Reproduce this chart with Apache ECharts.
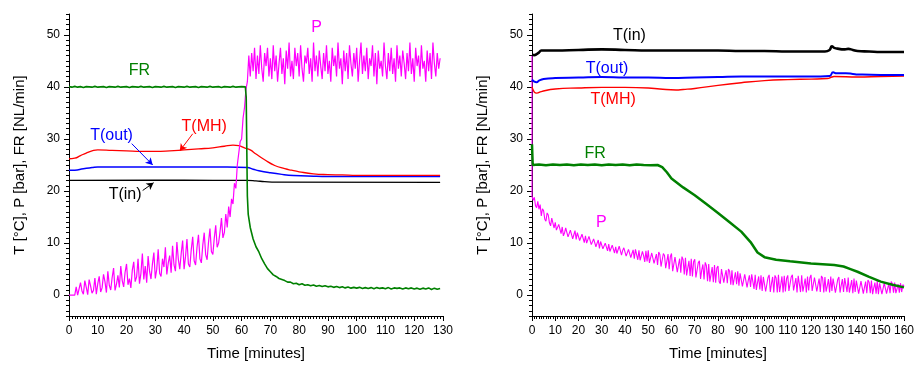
<!DOCTYPE html>
<html><head><meta charset="utf-8">
<script src="https://cdn.jsdelivr.net/npm/echarts@6/dist/echarts.min.js"></script>
<style>html,body{margin:0;padding:0;background:#fff}#c{width:917px;height:366px}</style>
</head><body><div id="c"></div>
<script>
// ---------- DATA ----------
const yTickLabels = [0, 10, 20, 30, 40, 50];
const leftXMax = 130, rightXMax = 160;

// Left panel
const leftPStep = 0.5;
const leftP = [
0,0,0,0,0, 1.6,0,0.3,2.4,0.8,
0.2,2.8,1.5,0.1,3.0,1.8,0.4,0.9,3.3,0.2,
2.2,3.6,0.6,1.4,4.0,2.6,0.5,4.6,1.9,1.0,
3.4,5.2,0.9,2.1,3.8,1.5,5.6,2.8,1.6,4.4,
6.0,2.0,3.2,1.4,4.8,6.4,2.6,3.5,7.0,2.2,
4.2,8.0,3.0,5.6,2.4,7.5,4.6,3.1,6.0,8.2,
3.2,5.0,8.8,4.2,3.6,7.0,5.4,9.2,4.0,6.2,
7.6,4.3,9.5,5.8,4.6,10.2,6.9,5.0,8.0,10.5,
5.0,7.4,10.8,6.0,5.4,8.8,11.2,6.6,5.8,9.2,
11.6,7.0,6.2,9.6,12.0,7.8,6.8,10.2,12.8,8.4,
7.8,11.0,13.4,9.2,10.0,12.2,14.8,11.0,12.0,15.6,
13.0,17.0,15.0,18.5,17.5,21.5,20.5,25.0,25.0,29.5,
30.0,34.0,36.0,39.5,41.0,46.0,
42.0,46.5,43.0,47.5,41.5,46.0,42.5,48.0,43.5,41.0, 46.5,44.0,47.5,42.0,45.5,41.5,48.0,43.0,46.0,41.0,
44.5,47.5,42.5,45.5,40.5,47.0,43.5,48.5,42.0,45.0, 41.5,47.5,44.0,46.5,42.0,48.0,43.5,41.0,46.0,44.5,
47.5,42.5,45.5,41.0,48.5,43.0,46.0,42.0,47.0,44.0, 41.5,46.5,43.0,48.0,42.5,45.0,41.0,47.5,44.0,46.0,
42.0,48.5,43.5,45.5,40.5,47.0,43.0,46.5,41.5,48.0, 44.5,42.0,46.5,43.5,47.5,41.0,45.0,48.5,42.5,46.0,
43.0,47.5,41.5,45.5,44.0,48.0,42.0,46.5,40.5,47.0, 43.5,45.0,42.0,48.5,44.0,41.5,46.5,43.0,47.5,42.5,
45.5,41.0,48.0,43.5,46.0,42.0,47.0,44.5,41.5,46.5, 43.0,48.5,42.5,45.5,41.0,47.5,44.0,46.0,42.0,48.0,
43.5,45.0,41.0,47.0,43.0,46.5,41.5,48.5,44.5,42.0, 46.5,43.5,45.5
];
const leftFR = [[0,40.05],[1,39.95],[2,40.1],[3,39.95],[4,40.05],[5,39.9],[6,40.05],[8,39.95],[9,40.1],[10,39.95],[12,40.05],[13,39.9],[14,40.05],[16,39.95],[17,40.1],[18,39.95],[20,40.05],[21,39.9],[22,40.05],[24,39.95],[25,40.1],[26,39.95],[28,40.05],[29,39.9],[30,40.05],[32,39.95],[33,40.1],[34,39.95],[36,40.05],[37,39.9],[38,40.05],[40,39.95],[41,40.1],[42,39.95],[44,40.05],[45,39.9],[46,40.05],[48,39.95],[49,40.1],[50,39.95],[52,40.05],[53,39.9],[54,40.05],[56,39.95],[57,40.1],[58,39.95],[60,40.05],[61.3,40.0],[61.6,38],[61.8,28],[62.0,19],[62.3,15.5],[63,13],[64,10.8],[65,9.3],[66,8.3],[67,7.0],[68,6.0],[69,5.1],[70,4.5],[71,3.9],[72,3.6],[73,3.2],[74,3.0],
[75,2.8],[76,2.5],[77,2.5],[78,2.2],[79,2.3],[80,2.0],[81,2.2],[82,1.9],[83,2.0],[84,1.8],[85,1.95],[86,1.7],[87,1.85],[88,1.65],[89,1.8],[90,1.6],[91,1.7],[92,1.5],[93,1.65],[94,1.45],[95,1.6],[96,1.4],[97,1.55],[98,1.35],[99,1.5],[100,1.35],[101,1.5],[102,1.3],[103,1.45],[104,1.3],[105,1.45],[106,1.25],[107,1.45],[108,1.3],[109,1.4],[110,1.25],[111,1.45],[112,1.2],[113,1.4],[114,1.3],[115,1.4],[116,1.2],[117,1.4],[118,1.25],[119,1.4],[120,1.2],[121,1.35],[122,1.15],[123,1.35],[124,1.2],[125,1.4],[126,1.1],[127,1.35],[128,1.15],[129,1.3]];
const leftTMH = [[0,26.2],[2,26.3],[4,26.8],[6,27.3],[8,27.7],[10,27.9],[15,27.8],[20,27.7],[25,27.6],[30,27.6],[35,27.7],[40,27.9],[45,28.1],[50,28.3],[54,28.6],[57,28.8],[59,28.7],[61,28.3],[63,27.9],[65,27.1],[68,26.0],[71.5,24.9],[75,24.3],[77.3,24.0],[80,23.7],[85,23.3],[90,23.15],[95,23.1],[100,23.0],[110,23.0],[129,23.0]];
const leftTout = [[0,24.0],[2,24.0],[5,24.3],[8,24.5],[10,24.6],[20,24.6],[40,24.6],[55,24.6],[62,24.5],[64,24.2],[66,23.9],[70,23.5],[74,23.2],[78,23.0],[85,22.85],[90,22.8],[129,22.8]];
const leftTin = [[0,22.05],[30,22.1],[50,22.05],[62,22.05],[65,21.95],[68,21.8],[72,21.7],[129,21.65]];

// Right panel
const rightPInitial = [0, 46];
const rightPStep = 0.5;
const rightP = [
19.0,18.2,18.8,17.2,16.8,18.0,16.5,17.4,15.2,16.6,
16.2,14.6,14.2,15.8,15.4,13.9,13.3,14.8,14.5,12.9,
14.0,12.5,12.2,13.6,13.4,11.8,13.1,11.4,12.0,12.9,
12.9,11.2,11.0,12.5,12.3,10.8,11.6,12.4,10.7,12.0,
12.2,10.5,10.4,11.7,11.6,10.1,11.4,10.0,9.8,11.3,
11.0,9.7,9.5,10.8,10.7,9.3,10.0,10.6,9.0,10.3,
10.5,8.9,8.8,10.0,9.9,8.5,9.8,8.4,8.3,9.6,
9.7,8.1,9.3,8.0,7.8,9.4,9.2,7.7,8.6,9.1,
9.3,7.5,7.3,8.8,8.9,7.2,8.0,8.7,7.0,8.8,
8.5,6.8,8.6,6.7,6.6,8.4,7.6,6.4,8.5,6.5,
8.6,6.2,6.0,8.1,8.2,6.1,7.0,7.9,5.8,8.3,
7.8,5.5,5.4,8.0,7.6,5.2,6.5,7.9,5.0,7.4,
8.0,4.6,4.5,7.3,7.6,4.4,5.8,7.0,4.3,7.4,
6.8,4.0,7.2,3.8,5.2,6.6,3.7,7.0,3.6,6.4,
6.9,3.4,3.2,6.2,6.6,3.1,4.8,5.9,3.0,6.3,
5.7,2.7,6.0,2.6,4.0,5.4,2.5,5.8,2.4,5.2,
5.6,2.6,2.2,5.0,5.3,2.4,3.8,4.8,2.3,5.0,
4.6,2.0,4.8,1.9,3.2,4.4,2.1,4.6,1.8,4.2,
4.4,1.7,1.9,4.0,4.2,1.5,2.8,3.8,1.6,4.0,
3.7,1.2,3.9,1.0,2.4,3.6,1.1,3.8,0.8,3.5,
3.8,0.7,0.9,3.4,3.9,0.6,2.2,3.5,0.5,3.8,
3.3,0.5,3.9,0.6,2.0,3.6,0.5,3.7,0.7,3.2,
3.8,0.8,0.6,3.5,3.9,0.9,2.1,3.3,0.5,3.7,
3.4,0.6,3.8,0.7,1.9,3.2,0.5,3.6,0.9,3.3,
3.9,0.8,0.5,3.4,3.6,0.7,2.0,3.2,0.6,3.7,
3.3,0.5,3.5,0.7,1.8,3.1,0.5,3.6,0.8,3.2,
3.4,0.5,0.7,3.0,3.5,0.5,1.9,3.1,0.6,3.3,
3.0,0.6,3.4,0.5,1.7,2.9,0.4,3.2,0.6,2.8,
3.1,0.3,0.5,2.7,3.0,0.3,1.5,2.6,0.4,2.9,
2.5,0.4,2.8,0.2,1.4,2.4,0.3,2.7,0.2,2.3,
2.6,0.2,0.4,2.3,2.5,0.3,1.3,2.2,0.4,2.6,
2.2,0.5,2.4,0.4,1.2,2.1,0.5,2.3,0.6,2.0,
1.8
];
const rightFR = [[0,29],[0.3,25.0],[3,25.1],[6,24.95],[9,25.1],[12,25.0],[15,25.1],[18,24.95],[21,25.1],[24,25.0],[27,25.1],[30,24.95],[33,25.1],[36,25.0],[39,25.1],[42,24.95],[45,25.1],[48,25.0],[51,24.95],[54,25.0],[56,24.6],[58,23.6],[60,22.4],[65,20.7],[70,19.2],[75,17.5],[80,15.8],[85,14.0],[90,12.2],[94,10.2],[97,8.2],[100,7.3],[105,6.8],[111,6.5],[120,6.1],[130,5.8],[134,5.5],[137,5.0],[140,4.5],[145,3.5],[150,2.6],[155,2.0],[160,1.5]];
const rightTMH = [[0,40.0],[1,39.0],[2,38.8],[4,39.1],[10,39.6],[20,39.8],[30,39.9],[40,39.9],[50,39.8],[55,39.6],[62,39.4],[65,39.5],[70,39.7],[80,40.3],[90,40.8],[100,41.2],[110,41.4],[120,41.5],[127,41.6],[129,41.9],[130,42.0],[140,41.9],[150,42.0],[160,42.1]];
const rightTout = [[0,41.4],[1,41.0],[2,40.9],[3,41.2],[5,41.5],[10,41.7],[20,41.8],[30,41.9],[40,41.8],[50,41.8],[60,41.7],[70,41.8],[80,41.9],[90,42.0],[100,42.0],[110,42.0],[120,42.0],[128,42.1],[129.5,42.8],[131,42.6],[135,42.6],[138,42.5],[140,42.4],[150,42.3],[160,42.3]];
const rightTin = [[0,46.2],[1,46.1],[2,46.3],[3,46.6],[4,47.0],[6,47.0],[10,47.0],[20,47.1],[30,47.2],[40,47.1],[50,47.0],[60,47.0],[70,47.0],[80,47.0],[90,46.9],[100,46.9],[110,46.8],[120,46.8],[126,46.8],[128,47.1],[129,47.8],[130,47.5],[132,47.3],[134,47.2],[136,47.3],[138,47.1],[140,46.9],[145,46.8],[150,46.7],[160,46.7]];

// Annotation positions (data coordinates)
const leftLabels = {FR:[24.5,43.2], P:[86.1,51.4], TMH:[47.0,32.4], Tout:[14.8,30.6], Tin:[19.5,19.4]};
const leftArrows = {TMH:[[43.0,31.0],[38.5,27.7]], Tout:[[21.8,29.1],[29.1,25.0]], Tin:[[25.6,20.1],[29.4,21.6]]};
const rightLabels = {Tin:[41.9,49.8], Tout:[32.3,43.6], TMH:[34.9,37.5], FR:[27.2,27.2], P:[29.8,14.0]};

// ---------- CHART ----------
const FONT = 'Liberation Sans, Arial, sans-serif';
const C = {P:'#ff00ff', FR:'#008000', TMH:'#ff0000', Tout:'#0000ff', Tin:'#000000'};
const toPairs = (vals, step) => vals.map((v, i) => [i * step, v]);
const minorY = []; for (let v = -4; v <= 54; v++) minorY.push(v);

function xAx(grid, max) {
  return {
    type:'value', gridIndex:grid, min:0, max:max, interval:10,
    name:'Time [minutes]', nameLocation:'middle', nameGap:30,
    nameTextStyle:{fontSize:15, color:'#000', fontFamily:FONT},
    axisLine:{show:true, onZero:false, lineStyle:{color:'#000', width:1}},
    axisTick:{show:true, length:5, lineStyle:{color:'#000'}},
    minorTick:{show:true, splitNumber:10, length:3, lineStyle:{color:'#000'}},
    axisLabel:{fontSize:12, color:'#000', fontFamily:FONT, margin:9, hideOverlap:false},
    splitLine:{show:false}, minorSplitLine:{show:false}
  };
}
function yAx(grid) {
  return {
    type:'value', gridIndex:grid, min:-4, max:54,
    name:'T [°C], P [bar], FR [NL/min]', nameLocation:'middle', nameGap:42, nameRotate:90,
    nameTextStyle:{fontSize:15, color:'#000', fontFamily:FONT},
    axisLine:{show:true, onZero:false, lineStyle:{color:'#000', width:1}},
    axisTick:{show:true, length:5, customValues:yTickLabels, lineStyle:{color:'#000'}},
    axisLabel:{fontSize:12, color:'#000', fontFamily:FONT, margin:9, customValues:yTickLabels},
    splitLine:{show:false}
  };
}
function yMinor(grid) {
  return {
    type:'value', gridIndex:grid, min:-4, max:54, position:'left',
    axisLine:{show:false}, axisLabel:{show:false},
    axisTick:{show:true, length:3, customValues:minorY, lineStyle:{color:'#000'}},
    splitLine:{show:false}
  };
}
function lbl(text, pos, color) {
  return {coord:pos, symbol:'circle', symbolSize:1, itemStyle:{color:'rgba(0,0,0,0)'},
    label:{show:true, position:'inside', formatter:text, color:color, fontSize:16, fontFamily:FONT}};
}
function line(name, data, xi, yi, color, width, extra) {
  return Object.assign({
    name, type:'line', xAxisIndex:xi, yAxisIndex:yi, data, showSymbol:false, symbol:'none',
    lineStyle:{color, width}, itemStyle:{color}, animation:false, silent:true, z:2
  }, extra || {});
}
function arrow(seg, color) {
  return {silent:true, symbol:['none','arrow'], symbolSize:[6,7], animation:false,
    label:{show:false}, lineStyle:{color, width:1, type:'solid'}, itemStyle:{color},
    emphasis:{disabled:true},
    data:[[{coord:seg[0]},{coord:seg[1]}]]};
}
function mp(text, pos, color) {
  return {silent:true, animation:false, data:[lbl(text, pos, color)]};
}

const chart = echarts.init(document.getElementById('c'), null, {renderer:'canvas'});
chart.setOption({
  backgroundColor:'#fff',
  animation:false,
  grid:[
    {left:69, top:14, width:374, height:304},
    {left:532, top:14, width:375, height:304}
  ],
  xAxis:[xAx(0, leftXMax), xAx(1, rightXMax)],
  yAxis:[yAx(0), yMinor(0), yAx(1), yMinor(1)],
  series:[
    line('T(in)', leftTin, 0, 0, C.Tin, 1.3, {smooth:true, markLine:arrow(leftArrows.Tin, C.Tin), markPoint:mp('T(in)', leftLabels.Tin, C.Tin)}),
    line('T(out)', leftTout, 0, 0, C.Tout, 1.5, {smooth:true, markLine:arrow(leftArrows.Tout, C.Tout), markPoint:mp('T(out)', leftLabels.Tout, C.Tout)}),
    line('T(MH)', leftTMH, 0, 0, C.TMH, 1.3, {smooth:true, markLine:arrow(leftArrows.TMH, C.TMH), markPoint:mp('T(MH)', leftLabels.TMH, C.TMH)}),
    line('P', toPairs(leftP, leftPStep), 0, 0, C.P, 1.2, {markPoint:mp('P', leftLabels.P, C.P)}),
    line('FR', leftFR, 0, 0, C.FR, 1.6, {markPoint:mp('FR', leftLabels.FR, C.FR)}),

    line('P', [rightPInitial].concat(toPairs(rightP, rightPStep)), 1, 2, C.P, 1.1, {markPoint:mp('P', rightLabels.P, C.P)}),
    line('FR', rightFR, 1, 2, C.FR, 2.5, {markPoint:mp('FR', rightLabels.FR, C.FR)}),
    line('T(MH)', rightTMH, 1, 2, C.TMH, 1.4, {smooth:true, markPoint:mp('T(MH)', rightLabels.TMH, C.TMH)}),
    line('T(out)', rightTout, 1, 2, C.Tout, 2, {smooth:true, markPoint:mp('T(out)', rightLabels.Tout, C.Tout)}),
    line('T(in)', rightTin, 1, 2, C.Tin, 2.6, {smooth:true, markPoint:mp('T(in)', rightLabels.Tin, C.Tin)})
  ]
});
</script></body></html>
